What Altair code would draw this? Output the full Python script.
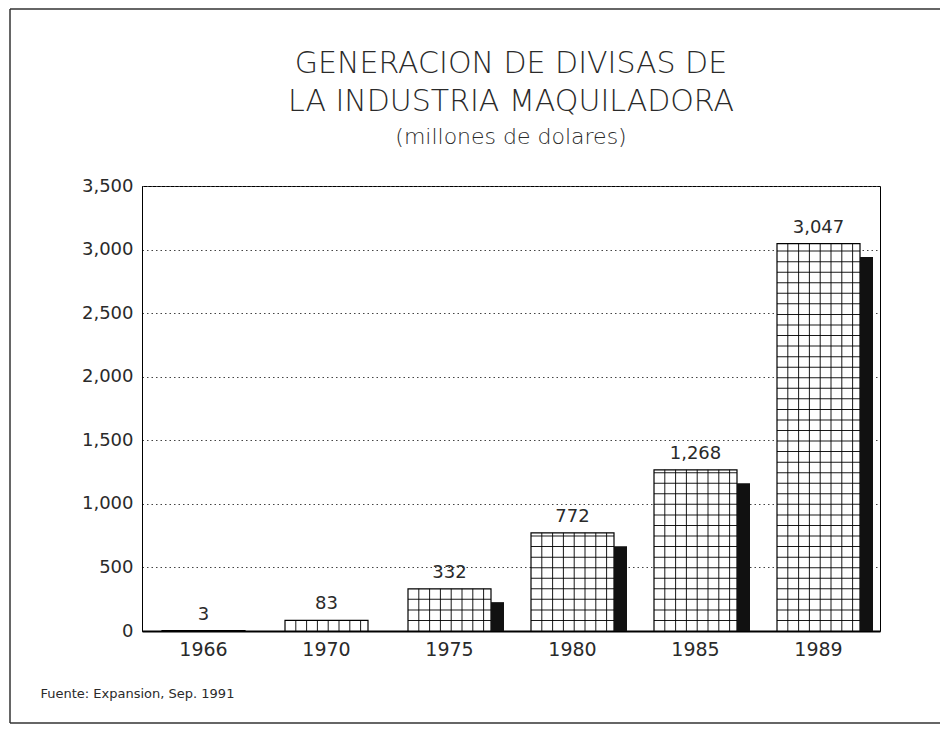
import altair as alt
import numpy as np
import pandas as pd

# ---- data ----
years = ["1966", "1970", "1975", "1980", "1985", "1989"]
values = [3, 83, 332, 772, 1268, 3047]
y_ticks = [0, 500, 1000, 1500, 2000, 2500, 3000, 3500]
title_lines = ["GENERACION DE DIVISAS DE", "LA INDUSTRIA MAQUILADORA"]
subtitle = "(millones de dolares)"
source_note = "Fuente: Expansion, Sep. 1991"

# ---- style constants ----
FONT = "DejaVu Sans"
INK = "#2a2a2a"
BAR_W = 83          # px width of hatched bar
SHADOW_W = 13       # px width of black shadow
SHADOW_DROP = 105   # shadow is drawn this many units lower (3-D look)
ROW_STEP = 83       # hatch row spacing in data units
COL_STEP = 10.8     # hatch column spacing in px

df = pd.DataFrame({"year": years, "value": values})
df["shadow"] = df["value"] - SHADOW_DROP
shadow_df = df[df["shadow"] > 0]

rows = []
for yr, v in zip(years, values):
    for lev in np.arange(ROW_STEP, v - 20, ROW_STEP):
        rows.append({"year": yr, "level": float(lev)})
hatch_rows = pd.DataFrame(rows)

xscale = alt.Scale(domain=years, paddingInner=0, paddingOuter=0)
yscale = alt.Scale(domain=[0, 3500], nice=False)

x_axis = alt.Axis(
    titleX=-102, titleY=66, titleAlign="left", titleBaseline="alphabetic",
    titleFontSize=13, titleFontWeight="normal", titleFont=FONT, titleColor=INK,
    labelFontSize=19, labelPadding=9, labelAngle=0, labelFont=FONT, labelColor=INK,
    ticks=False, domainColor="black", domainWidth=2,
)
y_axis = alt.Axis(
    values=y_ticks, labelExpr="format(datum.value, ',')", ticks=False,
    grid=True, gridDash=[1.5, 3], gridColor="#444", gridWidth=1,
    labelFontSize=18, labelPadding=9, labelFont=FONT, labelColor=INK,
    domainColor="black", domainWidth=1,
)

xo = alt.X("year:N", scale=xscale, title=source_note, axis=x_axis)

def yo(field):
    return alt.Y(field, type="quantitative", scale=yscale, title=None, axis=y_axis)

bars = alt.Chart(df).mark_bar(size=BAR_W, fill="white", stroke="black", strokeWidth=1.2).encode(
    x=xo, y=yo("value")
)

shadow = alt.Chart(shadow_df).mark_bar(size=SHADOW_W, xOffset=BAR_W / 2 + SHADOW_W / 2, color="#111").encode(
    x=xo, y=yo("shadow"),
)

hrows = alt.Chart(hatch_rows).mark_tick(size=BAR_W, thickness=1, color="black", opacity=0.9).encode(
    x=xo, y=yo("level"),
)

vcols = []
for k in range(1, 8):
    vcols.append(
        alt.Chart(df[df["value"] > 20]).mark_rule(
            xOffset=-BAR_W / 2 + COL_STEP * k, color="black", strokeWidth=1, opacity=0.9
        ).encode(
            x=xo, y=yo("value"), y2=alt.datum(0),
        )
    )

labels = alt.Chart(df).mark_text(
    dy=-11, baseline="alphabetic", fontSize=18, font=FONT, color=INK
).encode(
    x=xo, y=yo("value"),
    text=alt.Text("value:Q", format=","),
)

one = pd.DataFrame({"k": [0]})
frame_left = alt.Chart(one).mark_rule(color="#333", strokeWidth=1.5).encode(
    x=alt.value(-132), y=alt.value(-177), y2=alt.value(537)
)
frame_top = alt.Chart(one).mark_rule(color="#333", strokeWidth=1.5).encode(
    x=alt.value(-132), x2=alt.value(798), y=alt.value(-177)
)
frame_bottom = alt.Chart(one).mark_rule(color="#333", strokeWidth=1.5).encode(
    x=alt.value(-132), x2=alt.value(798), y=alt.value(537)
)

chart = alt.layer(
    bars, shadow, hrows, *vcols, labels, frame_left, frame_top, frame_bottom
).properties(
    width=738,
    height=445,
    autosize=alt.AutoSizeParams(type="none"),
    padding={"left": 134, "top": 178, "right": 60, "bottom": 95},
    title=alt.TitleParams(
        text=title_lines,
        subtitle=subtitle,
        font=FONT, fontSize=30, fontWeight=200, color=INK, lineHeight=38,
        subtitleFont=FONT, subtitleFontSize=22, subtitleFontWeight=200,
        subtitleColor=INK, subtitlePadding=10,
        anchor="middle", offset=-140,
    ),
).configure(background="white").configure_view(
    stroke="black", strokeWidth=1
)

chart.save("out.html", embed_options={"renderer": "svg", "actions": False})
